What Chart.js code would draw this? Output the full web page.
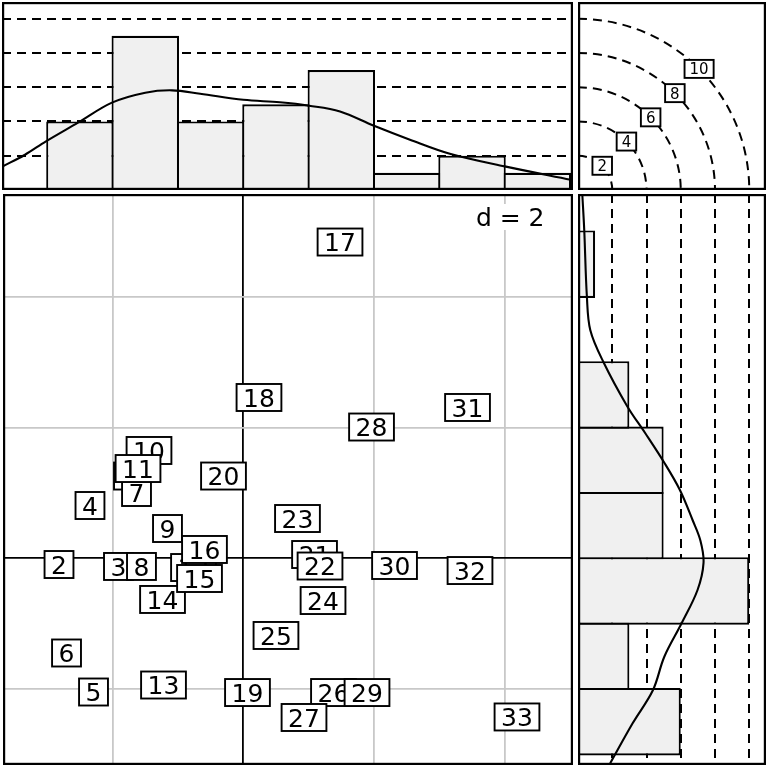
<!DOCTYPE html>
<html>
<head>
<meta charset="utf-8">
<script src="https://cdn.jsdelivr.net/npm/chart.js@4.4.1/dist/chart.umd.min.js"></script>
<style>
  html, body { margin: 0; padding: 0; background: #fff; }
  body { width: 768px; height: 768px; position: relative; overflow: hidden; }
  canvas { position: absolute; }
</style>
</head>
<body>
<canvas id="main" width="570" height="571" style="left:3px;top:194px"></canvas>
<canvas id="histTop" width="571" height="188" style="left:2px;top:2px"></canvas>
<canvas id="histRight" width="188" height="571" style="left:578px;top:194px"></canvas>
<canvas id="corner" width="188" height="188" style="left:578px;top:2px"></canvas>
<script>
// point labels and coordinates
const labels = ['1','2','3','4','5','6','7','8','9','10','11','12','13','14','15','16','17',
                '18','19','20','21','22','23','24','25','26','27','28','29','30','31','32','33'];
const xCoord = [-1.757, -2.820, -1.910, -2.346, -2.292, -2.705, -1.634, -1.558, -1.160, -1.443, -1.611,
                -0.762, -1.221, -1.236, -0.670, -0.594, 1.480, 0.240, 0.064, -0.303, 1.090, 1.174,
                0.829, 1.220, 0.500, 1.380, 0.929, 1.962, 1.893, 2.314, 3.431, 3.469, 4.188];
const yCoord = [1.259, -0.095, -0.125, 0.808, -2.046, -1.449, 1.007, -0.125, 0.456, 1.650, 1.374,
                -0.141, -1.939, -0.630, -0.309, 0.135, 4.840, 2.461, -2.054, 1.259, 0.058, -0.118,
                0.609, -0.646, -1.181, -2.054, -2.436, 2.009, -2.054, -0.110, 2.308, -0.187, -2.428];

// histograms (bins of width 1 from -3 to 5)
const binEdges = [-3, -2, -1, 0, 1, 2, 3, 4, 5];
const countX = [4, 9, 4, 5, 7, 1, 2, 1];
const countY = [6, 3, 10, 5, 5, 3, 0, 1];

// density curves, in count units
const densXpos = [-3.69, -3.34, -3.02, -2.53, -2.01, -1.50, -1.09, -0.66, 0, 0.56, 1.01, 1.48, 2.0, 2.55, 3.16, 4.0, 5.01];
const densXval = [1.36, 2.06, 2.84, 3.93, 5.10, 5.68, 5.82, 5.62, 5.27, 5.12, 4.92, 4.59, 3.75, 2.94, 2.12, 1.38, 0.60];
const densYpos = [5.575, 5.02, 4.0, 3.49, 3.0, 2.32, 1.917, 1.458, 1.045, 0.586, 0.27, -0.07, -0.485, -0.995, -1.506, -2.015, -2.525, -3.137];
const densYval = [0.25, 0.365, 0.52, 0.72, 1.49, 2.89, 3.92, 5.05, 5.95, 6.69, 7.15, 7.33, 6.98, 6.05, 5.04, 4.38, 3.19, 1.88];

const gridStep = 2;
const gridX = [-2, 0, 2, 4];
const gridY = [-2, 0, 2, 4];
const countLevels = [2, 4, 6, 8, 10];

// axis limits
const xMin = -3.677, xMax = 5.045;
const yMin = -3.163, yMax = 5.575;
const countMax = 10.978;

const FONT = '"DejaVu Sans"';
const DASH = [9, 6];
const LW = 2.1;

function drawTag(ctx, text, x, y, size, pad, h) {
  ctx.font = size + 'px ' + FONT;
  const w = ctx.measureText(text).width + 2 * pad;
  ctx.fillStyle = '#fff';
  ctx.fillRect(x - w / 2, y - h / 2, w, h);
  ctx.strokeStyle = '#000';
  ctx.lineWidth = 1.9;
  ctx.setLineDash([]);
  ctx.strokeRect(x - w / 2, y - h / 2, w, h);
  ctx.fillStyle = '#000';
  ctx.textAlign = 'center';
  ctx.textBaseline = 'alphabetic';
  ctx.fillText(text, x, y + 0.364 * size);
}

const frame = {
  id: 'frame',
  afterDraw(chart) {
    const { ctx, chartArea: a } = chart;
    ctx.save();
    ctx.strokeStyle = '#000';
    ctx.lineWidth = 2.2;
    ctx.setLineDash([]);
    ctx.strokeRect(a.left + 1.1, a.top + 1.1, a.width - 2.2, a.height - 2.2);
    ctx.restore();
  }
};

const tagLabels = {
  id: 'tagLabels',
  beforeDatasetsDraw(chart) {
    const { ctx, chartArea: a } = chart;
    ctx.save();
    ctx.font = '25px ' + FONT;
    ctx.fillStyle = '#fff';
    ctx.fillRect(a.right - 102, a.top + 10, 78, 26);
    ctx.fillStyle = '#000';
    ctx.textAlign = 'right';
    ctx.textBaseline = 'alphabetic';
    ctx.fillText('d = ' + gridStep, a.right - 28.5, a.top + 32);
    ctx.restore();
  },
  afterDatasetsDraw(chart) {
    const ctx = chart.ctx;
    const meta = chart.getDatasetMeta(0);
    ctx.save();
    meta.data.forEach((pt, i) => drawTag(ctx, labels[i], pt.x, pt.y, 25, 6.5, 27));
    ctx.restore();
  }
};

const noAxis = {
  offset: false,
  ticks: { display: false },
  grid: { display: false, drawTicks: false, offset: false },
  border: { display: false }
};

function dashedGrid(levels) {
  return {
    type: 'linear', min: 0, max: countMax, display: true, offset: false,
    ticks: { display: false },
    grid: { color: '#000', lineWidth: 2, drawTicks: false, offset: false, borderDash: DASH },
    border: { display: false, dash: DASH },
    afterBuildTicks: s => { s.ticks = levels.map(v => ({ value: v })); }
  };
}

const binCenters = countX.map((c, i) => (binEdges[i] + binEdges[i + 1]) / 2);

const barStyle = {
  backgroundColor: '#f0f0f0',
  borderColor: '#000',
  borderWidth: LW,
  borderSkipped: false,
  barPercentage: 1 + LW / 65.35,
  categoryPercentage: 1,
  inflateAmount: 0,
  grouped: false,
  order: 2
};

const lineStyle = {
  borderColor: '#000',
  borderWidth: LW,
  pointRadius: 0,
  tension: 0.35,
  fill: false,
  order: 1
};

const common = {
  responsive: false,
  animation: false,
  events: [],
  layout: { padding: 0, autoPadding: false },
  plugins: { legend: { display: false }, tooltip: { enabled: false } }
};

// main scatter with labels
new Chart(document.getElementById('main'), {
  type: 'scatter',
  data: {
    datasets: [{
      data: xCoord.map((x, i) => ({ x: x, y: yCoord[i] })),
      pointRadius: 0
    }]
  },
  options: Object.assign({}, common, {
    scales: {
      x: {
        type: 'linear', min: xMin, max: xMax,
        ticks: { display: false },
        grid: { color: c => c.tick.value === 0 ? '#000' : '#c8c8c8', lineWidth: 1.8, drawTicks: false },
        border: { display: false },
        afterBuildTicks: s => { s.ticks = gridX.map(v => ({ value: v })); }
      },
      y: {
        type: 'linear', min: yMin, max: yMax,
        ticks: { display: false },
        grid: { color: c => c.tick.value === 0 ? '#000' : '#c8c8c8', lineWidth: 1.8, drawTicks: false },
        border: { display: false },
        afterBuildTicks: s => { s.ticks = gridY.map(v => ({ value: v })); }
      }
    }
  }),
  plugins: [tagLabels, frame]
});

// top histogram of x
new Chart(document.getElementById('histTop'), {
  type: 'bar',
  data: {
    datasets: [
      Object.assign({ type: 'line', data: densXpos.map((x, i) => ({ x: x, y: densXval[i] })) }, lineStyle),
      Object.assign({ type: 'bar', data: binCenters.map((x, i) => ({ x: x, y: countX[i] })) }, barStyle)
    ]
  },
  options: Object.assign({}, common, {
    scales: {
      x: Object.assign({ type: 'linear', min: xMin - 1 / 65.35, max: xMax, display: false,
        afterBuildTicks: s => { s.ticks = binEdges.map(v => ({ value: v })); } }, noAxis),
      y: dashedGrid(countLevels)
    }
  }),
  plugins: [frame]
});

// right histogram of y
new Chart(document.getElementById('histRight'), {
  type: 'bar',
  data: {
    datasets: [
      Object.assign({ type: 'line', data: densYpos.map((y, i) => ({ x: densYval[i], y: y })) }, lineStyle),
      Object.assign({ type: 'bar', indexAxis: 'y', data: binCenters.map((y, i) => ({ x: countY[i], y: y })) }, barStyle)
    ]
  },
  options: Object.assign({}, common, {
    scales: {
      x: dashedGrid(countLevels),
      y: Object.assign({ type: 'linear', min: yMin, max: yMax, display: false,
        afterBuildTicks: s => { s.ticks = binEdges.map(v => ({ value: v })); } }, noAxis)
    }
  }),
  plugins: [frame]
});

// corner key: quarter circles for the count levels
const countKey = {
  id: 'countKey',
  afterDatasetsDraw(chart) {
    const { ctx, chartArea: a, scales } = chart;
    const cx = scales.x.getPixelForValue(0);
    const cy = scales.y.getPixelForValue(0);
    ctx.save();
    ctx.beginPath();
    ctx.rect(a.left, a.top, a.width, a.height);
    ctx.clip();
    ctx.strokeStyle = '#000';
    ctx.lineWidth = 2;
    ctx.setLineDash(DASH);
    countLevels.forEach(v => {
      const r = scales.x.getPixelForValue(v) - cx;
      ctx.beginPath();
      ctx.arc(cx, cy, r, -Math.PI / 2, 0);
      ctx.stroke();
    });
    countLevels.forEach(v => {
      const r = scales.x.getPixelForValue(v) - cx;
      drawTag(ctx, String(v), cx + r * Math.SQRT1_2, cy - r * Math.SQRT1_2, 15, 5, 18);
    });
    ctx.restore();
  }
};

new Chart(document.getElementById('corner'), {
  type: 'scatter',
  data: { datasets: [{ data: [], pointRadius: 0 }] },
  options: Object.assign({}, common, {
    scales: {
      x: Object.assign({ type: 'linear', min: 0, max: countMax, display: false }, noAxis),
      y: Object.assign({ type: 'linear', min: 0, max: countMax, display: false }, noAxis)
    }
  }),
  plugins: [countKey, frame]
});
</script>
</body>
</html>
